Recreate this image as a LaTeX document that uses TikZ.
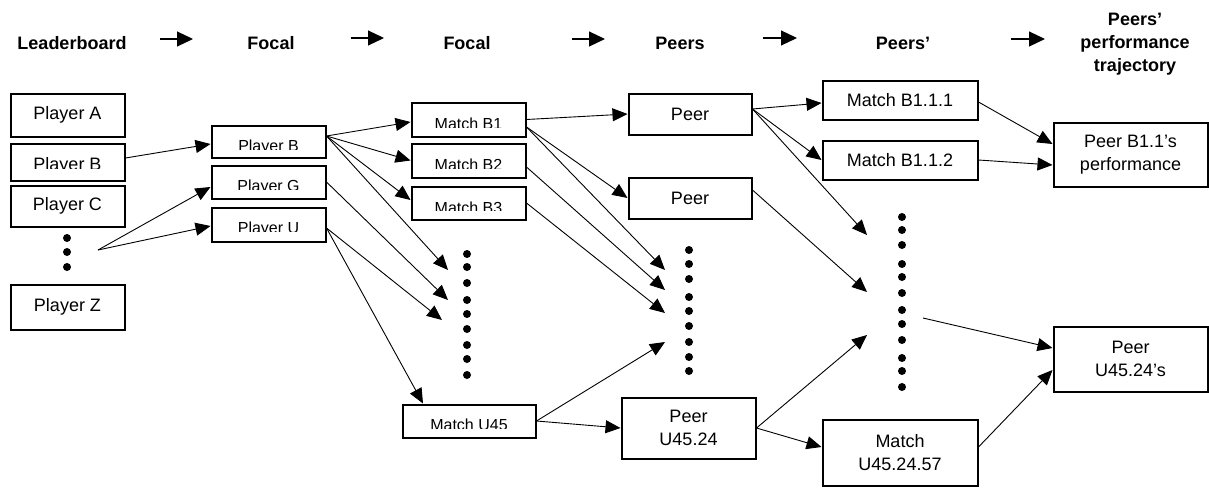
\documentclass[tikz,border=0pt]{standalone}
\usepackage{fontspec}
\setmainfont{Liberation Sans}
\usetikzlibrary{arrows.meta,calc}
\newcommand{\fsz}[1]{\fontsize{#1}{23}\selectfont}
\tikzset{
  box/.style={draw, line width=2pt, rectangle, inner sep=0pt, align=center, font=\fsz{18}},
  clipped/.style n args={4}{box, path picture={
      \clip ([yshift=#3]path picture bounding box.south west) rectangle (path picture bounding box.north east);
      \node[anchor=base, inner sep=0pt, font=\fsz{#4}] at ([yshift=#2]path picture bounding box.south) {#1};}},
  conn/.style={line width=0.9pt, -{Triangle[length=15pt,width=13pt]}},
  harrow/.style={line width=1.1pt, -{Triangle[length=16pt,width=15pt]}},
  head/.style={font=\bfseries\fsz{18}, align=center, inner sep=0pt},
  dot/.style={fill=black}
}
\begin{document}
\begin{tikzpicture}[x=1pt,y=-1pt]
\useasboundingbox (0,0) rectangle (1209,487);
% headers
\node[head, anchor=base] (h1) at (72,50) {Leaderboard};
\node[head, anchor=base] (h2) at (271,50) {Focal};
\node[head, anchor=base] (h3) at (467,50) {Focal};
\node[head, anchor=base] (h4) at (680,50) {Peers};
\node[head, anchor=base] (h5) at (903,50) {Peers’};
\node[head] (h6) at (1135,44) {Peers’\\performance\\trajectory};
\coordinate (a1s) at (160,39); \coordinate (a1e) at (193,39);
\coordinate (a2s) at (351,38); \coordinate (a2e) at (384,38);
\coordinate (a3s) at (572,39); \coordinate (a3e) at (605,39);
\coordinate (a4s) at (763,38); \coordinate (a4e) at (797,38);
\coordinate (a5s) at (1011,39); \coordinate (a5e) at (1045,39);
\foreach \i in {1,...,5} \draw[harrow] (a\i s) -- (a\i e);

% column 1
\node[box, minimum width=114pt, minimum height=43pt] (pA) at (67.5,115) {Player A};
\node[clipped={Player B}{10pt}{12.5pt}{18}, minimum width=114pt, minimum height=37pt] (pB) at (67.5,162) {};
\node[box, minimum width=114pt, minimum height=41pt] (pC) at (67.5,206) {Player C};
\node[box, minimum width=114pt, minimum height=45pt] (pZ) at (67.5,307) {Player Z};
\foreach \y in {238,252,267} \fill[dot] (67,\y) circle (4pt);

% column 2
\node[clipped={Player B}{6.5pt}{8.5pt}{16}, minimum width=114pt, minimum height=32pt] (fB) at (268.5,141.5) {};
\node[clipped={Player G}{7.5pt}{9.5pt}{16}, minimum width=114pt, minimum height=33pt] (fG) at (268.5,182) {};
\node[clipped={Player U}{8pt}{10.5pt}{16}, minimum width=114pt, minimum height=34pt] (fU) at (268.5,224.5) {};

% column 3
\node[clipped={Match B1}{7pt}{9.5pt}{16}, minimum width=114pt, minimum height=34pt] (mB1) at (468.5,119.5) {};
\node[clipped={Match B2}{7pt}{9.5pt}{16}, minimum width=114pt, minimum height=34pt] (mB2) at (468.5,160.5) {};
\node[clipped={Match B3}{6.5pt}{9pt}{16}, minimum width=114pt, minimum height=33pt] (mB3) at (468.5,203) {};
\node[clipped={Match U45}{7pt}{9.5pt}{16}, minimum width=133pt, minimum height=33pt] (mU45) at (469,421) {};
\foreach \y in {254,267,283,300,314,329,345,359,375} \fill[dot] (467,\y) circle (4pt);

% column 4
\node[box, minimum width=123pt, minimum height=41pt] (peer1) at (690,114) {Peer};
\node[box, minimum width=123pt, minimum height=41pt] (peer2) at (690,198) {Peer};
\node[box, minimum width=134pt, minimum height=61pt] (peerU) at (688.5,428) {Peer\\U45.24};
\foreach \y in {250,264,279,297,311,326,342,357,371} \fill[dot] (689,\y) circle (4pt);

% column 5
\node[box, minimum width=155pt, minimum height=39pt] (m111) at (900,100) {Match B1.1.1};
\node[box, minimum width=155pt, minimum height=39pt] (m112) at (900,160) {Match B1.1.2};
\node[box, minimum width=155pt, minimum height=66pt] (mU57) at (900,452.5) {Match\\U45.24.57};
\foreach \y in {217,230,245,264,277,293,310,324,340,358,371,387} \fill[dot] (902,\y) circle (4pt);

% column 6
\node[box, minimum width=154pt, minimum height=64pt] (perfB) at (1130.5,154.5) {Peer B1.1’s\\performance};
\node[box, minimum width=154pt, minimum height=65pt] (perfU) at (1130.5,359) {Peer\\U45.24’s};

% free ends
\coordinate (fork) at (98,250);
\coordinate (d1a) at (448,270);
\coordinate (d1b) at (448,300);
\coordinate (d1c) at (442,320);
\coordinate (d2a) at (665,270);
\coordinate (d2b) at (665,290);
\coordinate (d2c) at (665,313);
\coordinate (d2d) at (665,342);
\coordinate (d3a) at (867,235);
\coordinate (d3b) at (867,292);
\coordinate (d3c) at (867,335);
\coordinate (d3s) at (923,318);

% connectors
\draw[conn] ([yshift=4pt]pB.east) -- ([yshift=-2.5pt]fB.west);
\draw[conn] (fork) -- ([yshift=-5pt]fG.west);
\draw[conn] (fork) -- ([yshift=-1.5pt]fU.west);

\draw[conn] ([yshift=5.5pt]fB.east) -- ([yshift=-2.5pt]mB1.west);
\draw[conn] ([yshift=5.5pt]fB.east) -- (mB2.west);
\draw[conn] ([yshift=5.5pt]fB.east) -- ([yshift=3pt]mB3.west);
\draw[conn] ([yshift=5.5pt]fB.east) -- (d1a);
\draw[conn] (fG.east) -- (d1b);
\draw[conn] ([yshift=-3.5pt]fU.east) -- (d1c);
\draw[conn] ([yshift=-3.5pt]fU.east) -- ([xshift=-46pt]mU45.north);

\draw[conn] (mB1.east) -- (peer1.west);
\draw[conn] ([yshift=-7.5pt]mB1.east) -- (peer2.west);
\draw[conn] ([yshift=-7.5pt]mB1.east) -- (d2a);
\draw[conn] ([yshift=-6.5pt]mB2.east) -- (d2b);
\draw[conn] (mB3.east) -- (d2c);
\draw[conn] (mU45.east) -- (d2d);
\draw[conn] (mU45.east) -- (peerU.west);

\draw[conn] ([yshift=5pt]peer1.east) -- ([yshift=-3pt]m111.west);
\draw[conn] ([yshift=5pt]peer1.east) -- (m112.west);
\draw[conn] ([yshift=5pt]peer1.east) -- (d3a);
\draw[conn] ([yshift=8pt]peer2.east) -- (d3b);
\draw[conn] (peerU.east) -- (d3c);
\draw[conn] (peerU.east) -- ([yshift=5.5pt]mU57.west);

\draw[conn] ([yshift=-2pt]m111.east) -- ([yshift=10.5pt]perfB.west);
\draw[conn] (m112.east) -- ([yshift=-10.5pt]perfB.west);
\draw[conn] (d3s) -- ([yshift=11pt]perfU.west);
\draw[conn] ([yshift=5.5pt]mU57.east) -- ([yshift=-11pt]perfU.west);
\end{tikzpicture}
\end{document}
